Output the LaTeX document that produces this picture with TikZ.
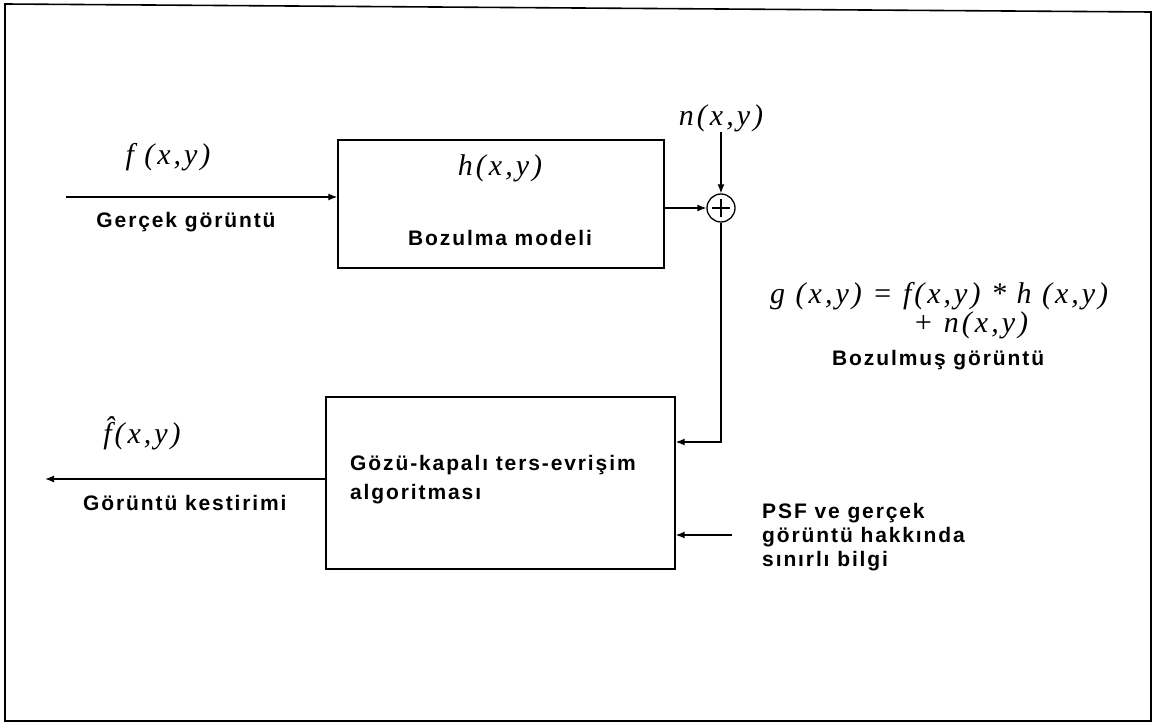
\documentclass[tikz,border=0pt]{standalone}
\usepackage{fontspec}
\setmainfont{Liberation Sans}
\usetikzlibrary{arrows.meta,calc}
\newfontfamily\lblfont{Liberation Sans Bold}[LetterSpace=9]
\newfontfamily\mfont{Liberation Serif Italic}[LetterSpace=10]
\tikzset{
  lbl/.style={inner sep=0pt, font=\lblfont\fontsize{21}{24}\selectfont},
  mlbl/.style={inner sep=0pt, font=\mfont\fontsize{30}{34}\selectfont},
  blk/.style={draw, line width=1.4pt, inner sep=0pt},
  arr/.style={line width=1.3pt, -{Latex[length=9pt,width=7pt]}},
  sumnode/.style={draw, circle, line width=1.3pt, minimum size=28pt, inner sep=0pt,
    path picture={\draw[line width=1.2pt]
      ([xshift=-9pt]path picture bounding box.center) -- ([xshift=9pt]path picture bounding box.center)
      ([yshift=-9pt]path picture bounding box.center) -- ([yshift=9pt]path picture bounding box.center);}}
}
\begin{document}
\begin{tikzpicture}[x=1pt,y=-1pt]
\useasboundingbox (0,0) rectangle (1152,727);
% frame
\draw[line width=1.6pt] (5,4) -- (1151,12) -- (1151,721) -- (5,721) -- cycle;
% blocks
\node[blk, minimum width=326pt, minimum height=128pt] (b1) at (501,204) {};
\node[blk, minimum width=349pt, minimum height=172pt] (b2) at (500.5,483) {};
\node[sumnode] (sum) at (721,208) {};
% labels
\node[mlbl] (f) at (168,157) {f (x,y)};
\node[lbl] (fl) at (186,222) {Gerçek görüntü};
\node[mlbl] (h) at (500,168) {h(x,y)};
\node[lbl] (hl) at (500,238) {Bozulma modeli};
\node[mlbl] (n) at (721,118) {n(x,y)};
\node[mlbl, anchor=west] (g1) at (770,296) {g (x,y) = f(x,y) * h (x,y)};
\node[mlbl, anchor=west] (g2) at (913,325) {+ n(x,y)};
\node[lbl, anchor=west] (gl) at (832,360) {Bozulmuş görüntü};
\node[lbl, anchor=north west, align=left, font=\lblfont\fontsize{21}{29}\selectfont] (al) at (350,455) {Gözü-kapalı ters-evrişim\\algoritması};
\node[mlbl] (fh) at (142,433) {\^{f}(x,y)};
\node[lbl, anchor=west] (ol) at (83,503) {Görüntü kestirimi};
\node[lbl, anchor=north west, align=left, font=\lblfont\fontsize{21}{24}\selectfont] (psfl) at (762,503) {PSF ve gerçek\\görüntü hakkında\\sınırlı bilgi};
% connectors
\coordinate (in) at (66,197);
\coordinate (c1) at (718,442);
\coordinate (psf) at (732,535);
\coordinate (out) at (45,479);
\draw[arr] (in) -- (b1.west |- in);
\draw[arr] (b1.east |- sum) -- (sum.west);
\draw[arr] (n.south) -- (sum.north);
\draw[arr] (sum.south) -- (sum.south |- c1) -- (b2.east |- c1);
\draw[arr] (psf) -- (b2.east |- psf);
\draw[arr] (b2.west |- out) -- (out);
\end{tikzpicture}
\end{document}
